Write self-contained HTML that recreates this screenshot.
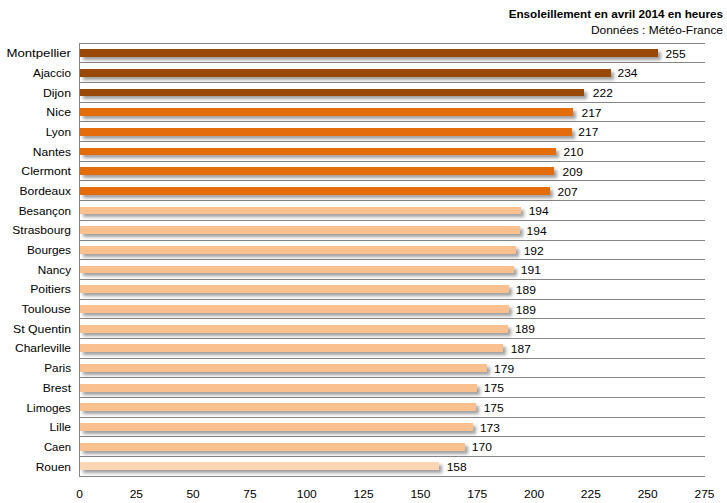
<!DOCTYPE html>
<html><head><meta charset="utf-8"><style>
html,body{margin:0;padding:0;background:#fff;}
body{width:727px;height:503px;position:relative;overflow:hidden;font-family:"Liberation Sans",sans-serif;color:#000;}
.g{position:absolute;left:79px;width:626px;height:1px;background:#868686;}
.ax{position:absolute;left:79px;top:43px;width:1px;height:434px;background:#868686;}
.b{position:absolute;left:80px;box-shadow:3px 3px 3.5px rgba(0,0,0,0.38);}
.l,.v,.t,.ti,.st{position:absolute;font-size:12px;line-height:16px;white-space:nowrap;transform:scaleY(0.9);transform-origin:0 12px;}
.l{left:0;width:71px;text-align:right;transform-origin:71px 12px;}
.t{top:486px;width:40px;text-align:center;}
.ti{right:4px;top:6px;font-size:11.7px;font-weight:bold;}
.st{right:4px;top:22px;font-size:11.95px;}
</style></head><body>
<div class="ti">Ensoleillement en avril 2014 en heures</div>
<div class="st">Données : Météo-France</div>
<div class="g" style="top:43px"></div>
<div class="g" style="top:62px"></div>
<div class="g" style="top:82px"></div>
<div class="g" style="top:102px"></div>
<div class="g" style="top:121px"></div>
<div class="g" style="top:141px"></div>
<div class="g" style="top:161px"></div>
<div class="g" style="top:180px"></div>
<div class="g" style="top:200px"></div>
<div class="g" style="top:220px"></div>
<div class="g" style="top:240px"></div>
<div class="g" style="top:259px"></div>
<div class="g" style="top:279px"></div>
<div class="g" style="top:299px"></div>
<div class="g" style="top:318px"></div>
<div class="g" style="top:338px"></div>
<div class="g" style="top:358px"></div>
<div class="g" style="top:377px"></div>
<div class="g" style="top:397px"></div>
<div class="g" style="top:417px"></div>
<div class="g" style="top:436px"></div>
<div class="g" style="top:456px"></div>
<div class="g" style="top:476px"></div>
<div class="b" style="top:49px;height:8px;width:578px;background:#984807"></div>
<div class="l" style="top:45px;transform:scale(1.100,0.9)">Montpellier</div>
<div class="v" style="top:46px;left:665.60px">255</div>
<div class="b" style="top:69px;height:8px;width:531px;background:#984807"></div>
<div class="l" style="top:65px;transform:scale(0.980,0.9)">Ajaccio</div>
<div class="v" style="top:65px;left:617.50px">234</div>
<div class="b" style="top:89px;height:7px;width:504px;background:#984807"></div>
<div class="l" style="top:85px;transform:scale(1.024,0.9)">Dijon</div>
<div class="v" style="top:85px;left:592.80px">222</div>
<div class="b" style="top:108px;height:8px;width:493px;background:#E46C0A"></div>
<div class="l" style="top:104px;transform:scale(1.026,0.9)">Nice</div>
<div class="v" style="top:105px;left:581.50px">217</div>
<div class="b" style="top:128px;height:8px;width:492px;background:#E46C0A"></div>
<div class="l" style="top:124px;transform:scale(0.992,0.9)">Lyon</div>
<div class="v" style="top:124px;left:578.30px">217</div>
<div class="b" style="top:148px;height:7px;width:476px;background:#E46C0A"></div>
<div class="l" style="top:144px;transform:scale(1.006,0.9)">Nantes</div>
<div class="v" style="top:144px;left:563.40px">210</div>
<div class="b" style="top:167px;height:8px;width:474px;background:#E46C0A"></div>
<div class="l" style="top:163px;transform:scale(1.021,0.9)">Clermont</div>
<div class="v" style="top:164px;left:562.60px">209</div>
<div class="b" style="top:187px;height:8px;width:470px;background:#E46C0A"></div>
<div class="l" style="top:183px;transform:scale(1.004,0.9)">Bordeaux</div>
<div class="v" style="top:184px;left:557.60px">207</div>
<div class="b" style="top:207px;height:7px;width:441px;background:#FAC090"></div>
<div class="l" style="top:203px;transform:scale(0.981,0.9)">Besançon</div>
<div class="v" style="top:203px;left:528.70px">194</div>
<div class="b" style="top:226px;height:8px;width:440px;background:#FAC090"></div>
<div class="l" style="top:222px;transform:scale(1.000,0.9)">Strasbourg</div>
<div class="v" style="top:223px;left:526.60px">194</div>
<div class="b" style="top:246px;height:8px;width:436px;background:#FAC090"></div>
<div class="l" style="top:242px;transform:scale(0.986,0.9)">Bourges</div>
<div class="v" style="top:243px;left:523.70px">192</div>
<div class="b" style="top:266px;height:7px;width:434px;background:#FAC090"></div>
<div class="l" style="top:262px;transform:scale(0.976,0.9)">Nancy</div>
<div class="v" style="top:262px;left:520.80px">191</div>
<div class="b" style="top:285px;height:8px;width:429px;background:#FAC090"></div>
<div class="l" style="top:281px;transform:scale(1.021,0.9)">Poitiers</div>
<div class="v" style="top:282px;left:515.80px">189</div>
<div class="b" style="top:305px;height:8px;width:429px;background:#FAC090"></div>
<div class="l" style="top:301px;transform:scale(1.029,0.9)">Toulouse</div>
<div class="v" style="top:302px;left:515.80px">189</div>
<div class="b" style="top:325px;height:8px;width:428px;background:#FAC090"></div>
<div class="l" style="top:321px;transform:scale(1.021,0.9)">St Quentin</div>
<div class="v" style="top:321px;left:514.90px">189</div>
<div class="b" style="top:344px;height:8px;width:423px;background:#FAC090"></div>
<div class="l" style="top:340px;transform:scale(1.000,0.9)">Charleville</div>
<div class="v" style="top:341px;left:510.80px">187</div>
<div class="b" style="top:364px;height:8px;width:407px;background:#FAC090"></div>
<div class="l" style="top:360px;transform:scale(0.977,0.9)">Paris</div>
<div class="v" style="top:361px;left:494.10px">179</div>
<div class="b" style="top:384px;height:8px;width:397px;background:#FAC090"></div>
<div class="l" style="top:380px;transform:scale(1.008,0.9)">Brest</div>
<div class="v" style="top:380px;left:483.80px">175</div>
<div class="b" style="top:403px;height:8px;width:396px;background:#FAC090"></div>
<div class="l" style="top:400px;transform:scale(0.982,0.9)">Limoges</div>
<div class="v" style="top:400px;left:483.70px">175</div>
<div class="b" style="top:423px;height:8px;width:393px;background:#FAC090"></div>
<div class="l" style="top:419px;transform:scale(1.001,0.9)">Lille</div>
<div class="v" style="top:420px;left:479.90px">173</div>
<div class="b" style="top:443px;height:8px;width:385px;background:#FAC090"></div>
<div class="l" style="top:439px;transform:scale(0.943,0.9)">Caen</div>
<div class="v" style="top:439px;left:471.80px">170</div>
<div class="b" style="top:462px;height:8px;width:359px;background:#FCD5B5"></div>
<div class="l" style="top:459px;transform:scale(1.000,0.9)">Rouen</div>
<div class="v" style="top:459px;left:446.70px">158</div>
<div class="t" style="left:59.50px">0</div>
<div class="t" style="left:116.32px">25</div>
<div class="t" style="left:173.14px">50</div>
<div class="t" style="left:229.95px">75</div>
<div class="t" style="left:286.77px">100</div>
<div class="t" style="left:343.59px">125</div>
<div class="t" style="left:400.41px">150</div>
<div class="t" style="left:457.23px">175</div>
<div class="t" style="left:514.05px">200</div>
<div class="t" style="left:570.86px">225</div>
<div class="t" style="left:627.68px">250</div>
<div class="t" style="left:684.50px">275</div>
<div class="ax"></div>
</body></html>
